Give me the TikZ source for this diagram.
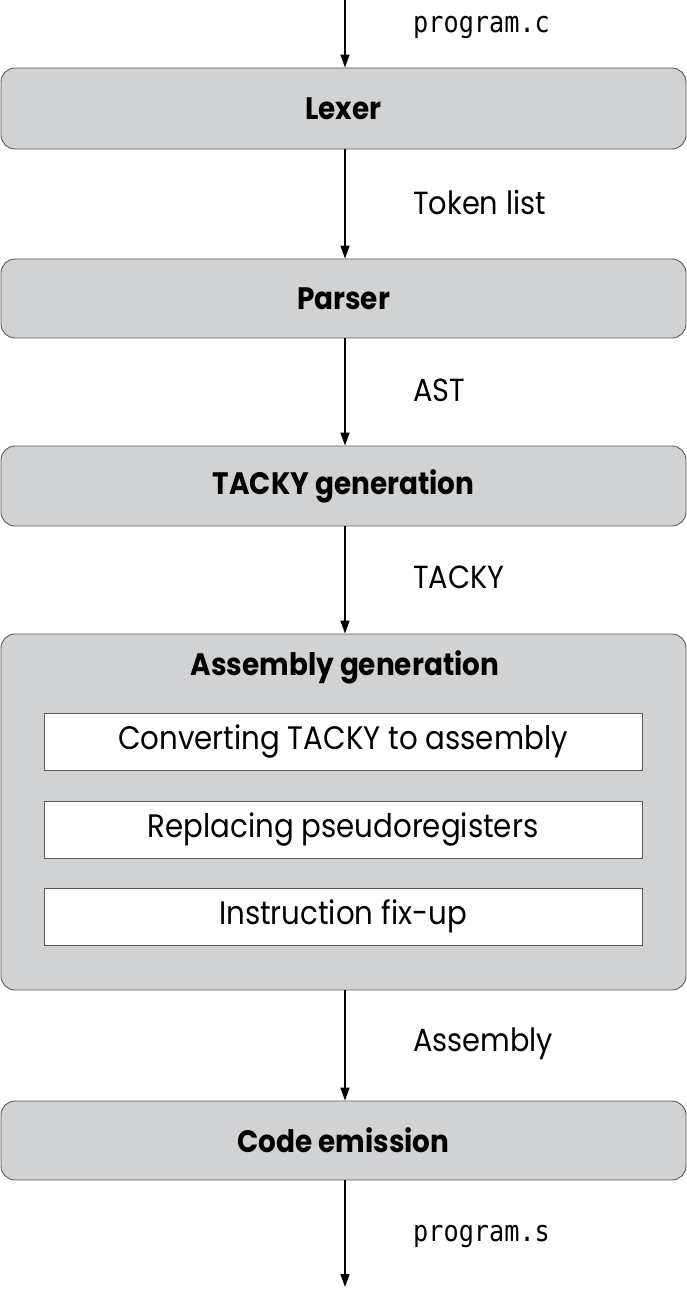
\documentclass[tikz,border=0pt]{standalone}
\usepackage{fontspec}
\setmainfont[FakeStretch=0.9]{Poppins}
\setmonofont[FakeStretch=0.87]{DejaVu Sans Mono}
\usetikzlibrary{arrows.meta}
\definecolor{boxgray}{HTML}{D1D2D4}
\definecolor{edgegray}{HTML}{5A5A5A}
\tikzset{
  stage/.style={draw=edgegray, line width=0.9pt, fill=boxgray, rounded corners=14pt,
    minimum width=685pt, inner sep=0pt, font=\fontsize{31}{34}\selectfont\bfseries},
  sub/.style={draw=edgegray, line width=0.9pt, fill=white, minimum width=598pt,
    minimum height=57pt, inner sep=0pt, font=\fontsize{32.5}{34}\selectfont},
  lbl/.style={anchor=west, inner sep=0pt, font=\fontsize{32}{34}\selectfont},
  mlbl/.style={anchor=west, inner sep=0pt, font=\fontsize{29}{32}\ttfamily},
  flow/.style={line width=1.4pt, -{Triangle[length=13pt,width=9pt]}},
}
\begin{document}
\begin{tikzpicture}[x=1pt,y=-1pt]
\useasboundingbox (0,0) rectangle (687,1289);
\coordinate (top) at (345,0);
\coordinate (bot) at (345,1287);
\node[stage, minimum height=81pt] (lex) at (343.5,108.5) {Lexer};
\node[stage, minimum height=79pt] (par) at (343.5,298.5) {Parser};
\node[stage, minimum height=80pt] (tac) at (343.5,486) {TACKY generation};
\node[stage, minimum height=356pt] (asm) at (343.5,812) {};
\node[inner sep=0pt, font=\fontsize{31}{34}\selectfont\bfseries] (asmt) at (345,667) {Assembly generation};
\node[sub] (s1) at (343,741.5) {Converting TACKY to assembly};
\node[sub] (s2) at (343,829.5) {Replacing pseudoregisters};
\node[sub] (s3) at (343,916.5) {Instruction fix-up};
\node[stage, minimum height=79pt] (emit) at (343.5,1140.5) {Code emission};
\draw[flow] (top) -- (top|-lex.north);
\draw[flow] (top|-lex.south) -- (top|-par.north);
\draw[flow] (top|-par.south) -- (top|-tac.north);
\draw[flow] (top|-tac.south) -- (top|-asm.north);
\draw[flow] (top|-asm.south) -- (top|-emit.north);
\draw[flow] (top|-emit.south) -- (bot);
\node[mlbl] (l1) at (413,27) {program.c};
\node[lbl] (l2) at (413,202) {Token list};
\node[lbl] (l3) at (413,390) {AST};
\node[lbl] (l4) at (413,577) {TACKY};
\node[lbl] (l5) at (413,1044) {Assembly};
\node[mlbl] (l6) at (413,1236) {program.s};
\end{tikzpicture}
\end{document}
